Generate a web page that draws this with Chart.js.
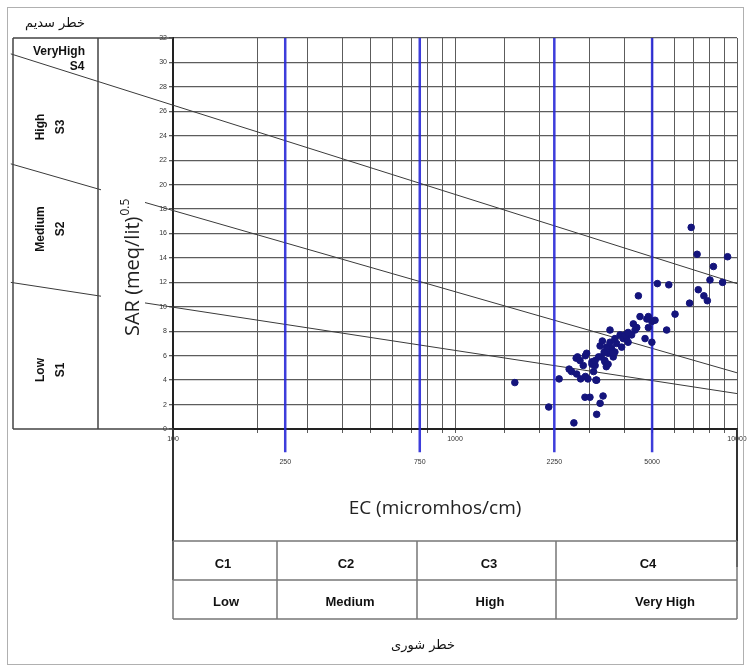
<!DOCTYPE html>
<html>
<head>
<meta charset="utf-8">
<script src="https://cdn.jsdelivr.net/npm/chart.js@4.4.0/dist/chart.umd.min.js"></script>
<style>
  body { margin: 0; background: #fff; }
  #wrap { width: 749px; height: 671px; }
</style>
</head>
<body>
<div id="wrap"><canvas id="wilcox" width="749" height="671"></canvas></div>
<script>
// water samples: EC (micromhos/cm) and SAR
const sampleEC = [1630, 2150, 2640, 2340, 2540, 2590, 2700, 2790, 2900, 2720,
  2900, 3060, 3140, 3100, 3180, 3270, 3300, 3400, 3440, 3490,
  3545, 3590, 3640, 3690, 3740, 3850, 3900, 3950, 4060, 4110,
  4230, 4290, 4350, 4410, 4530, 4470, 4720, 4790, 4850, 4990,
  4990, 5120, 5220, 5630, 5730, 6030, 6790, 6880, 7220, 7290,
  7630, 7850, 8020, 8250, 8890, 9260, 2890, 3010, 3350, 3270,
  3180, 2690, 2850, 2930, 2960, 3160, 3060, 3140, 3230, 3380,
  3450, 3545, 3690, 3400, 3490, 3640, 4010, 4110, 2775, 4850, 3330];
const sampleSAR = [3.8, 1.8, 0.5, 4.1, 4.9, 4.7, 4.5, 4.1, 4.3, 5.9,
  6.0, 5.5, 5.2, 4.7, 4.0, 6.8, 5.9, 5.5, 5.1, 6.2,
  8.1, 6.6, 5.9, 6.3, 7.0, 7.7, 6.7, 7.4, 7.5, 7.1,
  7.7, 8.6, 8.1, 8.3, 9.2, 10.9, 7.4, 9.0, 8.3, 8.8,
  7.1, 8.9, 11.9, 8.1, 11.8, 9.4, 10.3, 16.5, 14.3, 11.4,
  10.9, 10.5, 12.2, 13.3, 12.0, 14.1, 2.6, 2.6, 2.7, 2.1,
  1.2, 5.8, 5.2, 6.2, 4.1, 4.0, 5.3, 5.6, 5.9, 6.3,
  6.7, 7.1, 7.4, 5.6, 5.3, 6.2, 7.7, 7.9, 5.6, 9.2, 7.2];

// salinity class limits (blue lines) and how far below SAR 0 they run
const ecLimits = [250, 750, 2250, 5000];
const limitBottomSAR = -1.9;

// sodium hazard boundaries, end points
const boundaryEC = [26.6, 10000];
const boundaryS1S2 = [12.0, 2.9];
const boundaryS2S3 = [21.7, 4.6];
const boundaryS3S4 = [30.7, 11.9];

const xLabelled = [100, 1000, 10000];
const salinityCodes = ['C1', 'C2', 'C3', 'C4'];
const salinityNames = ['Low', 'Medium', 'High', 'Very High'];

const points = sampleEC.map((ec, i) => ({ x: ec, y: sampleSAR[i] }));

function boundary(sar) {
  return boundaryEC.map((ec, i) => ({ x: ec, y: sar[i] }));
}

const lineDatasets = [boundaryS1S2, boundaryS2S3, boundaryS3S4].map(b => ({
  data: boundary(b),
  showLine: true,
  borderColor: '#3a3a3a',
  borderWidth: 1,
  pointRadius: 0,
  clip: false,
  order: 2
}));

const limitDatasets = ecLimits.map(ec => ({
  data: [{ x: ec, y: 32 }, { x: ec, y: limitBottomSAR }],
  showLine: true,
  borderColor: 'rgba(40,40,215,0.9)',
  borderWidth: 2.5,
  pointRadius: 0,
  clip: false,
  order: 1
}));

const decorations = {
  id: 'decorations',
  afterDatasetsDraw(chart) {
    const ctx = chart.ctx;
    const ca = chart.chartArea;
    const x = chart.scales.x;
    ctx.save();

    // white band behind the y title
    ctx.fillStyle = '#fff';
    ctx.fillRect(101, 140, 44, 210);

    ctx.fillStyle = '#222';
    ctx.font = '20px "Open Sans"';
    ctx.translate(139, 336);
    ctx.rotate(-Math.PI / 2);
    ctx.textAlign = 'left';
    ctx.textBaseline = 'alphabetic';
    ctx.fillText('SAR (meq/lit)', 0, 0);
    const w = ctx.measureText('SAR (meq/lit)').width;
    ctx.font = '12px "Open Sans"';
    ctx.fillText('0.5', w + 1, -10);
    ctx.restore();

    // labels of the blue lines
    ctx.save();
    ctx.fillStyle = '#333';
    ctx.font = '7px "Liberation Sans"';
    ctx.textAlign = 'center';
    ctx.textBaseline = 'middle';
    ecLimits.forEach(ec => ctx.fillText(String(ec), x.getPixelForValue(ec), 462));
    ctx.restore();
  },
  afterDraw(chart) {
    const ctx = chart.ctx;
    const ca = chart.chartArea;
    ctx.save();

    // outer frame
    ctx.strokeStyle = '#b0b0b0';
    ctx.lineWidth = 1;
    ctx.strokeRect(7.5, 7.5, 736, 657);

    // sodium panel
    ctx.strokeStyle = '#444';
    ctx.lineWidth = 1.5;
    ctx.beginPath();
    ctx.moveTo(13, ca.top); ctx.lineTo(ca.left, ca.top);
    ctx.moveTo(13, ca.top); ctx.lineTo(13, ca.bottom);
    ctx.moveTo(13, ca.bottom); ctx.lineTo(ca.left, ca.bottom);
    ctx.moveTo(98, ca.top); ctx.lineTo(98, ca.bottom);
    ctx.stroke();

    ctx.fillStyle = '#111';
    ctx.font = 'bold 12px "Liberation Sans"';
    ctx.textAlign = 'center';
    ctx.textBaseline = 'middle';
    ctx.fillText('VeryHigh', 59, 52);
    ctx.fillText('S4', 77, 67);
    const sodium = [['High', 'S3', 127], ['Medium', 'S2', 229], ['Low', 'S1', 370]];
    sodium.forEach(([name, code, cy]) => {
      ctx.save();
      ctx.translate(41, cy);
      ctx.rotate(-Math.PI / 2);
      ctx.fillText(name, 0, 0);
      ctx.restore();
      ctx.save();
      ctx.translate(61, cy);
      ctx.rotate(-Math.PI / 2);
      ctx.fillText(code, 0, 0);
      ctx.restore();
    });

    // EC box under the axis
    ctx.strokeStyle = '#333';
    ctx.lineWidth = 2;
    ctx.beginPath();
    ctx.moveTo(ca.left, ca.bottom); ctx.lineTo(ca.left, 580);
    ctx.moveTo(ca.right, ca.bottom); ctx.lineTo(ca.right, 567);
    ctx.stroke();

    ctx.fillStyle = '#222';
    ctx.font = '19px "Open Sans"';
    ctx.fillText('EC (micromhos/cm)', 435, 509);

    // salinity table
    const cols = [ca.left, 277, 417, 556, ca.right];
    const rows = [541, 580, 619];
    ctx.strokeStyle = '#777';
    ctx.lineWidth = 1.5;
    ctx.beginPath();
    rows.forEach(r => { ctx.moveTo(ca.left, r); ctx.lineTo(ca.right, r); });
    cols.forEach(c => { ctx.moveTo(c, rows[0]); ctx.lineTo(c, rows[2]); });
    ctx.stroke();

    ctx.fillStyle = '#111';
    ctx.font = 'bold 13px "Liberation Sans"';
    const codeX = [223, 346, 489, 648];
    const nameX = [226, 350, 490, 665];
    salinityCodes.forEach((c, i) => ctx.fillText(c, codeX[i], 564));
    salinityNames.forEach((n, i) => ctx.fillText(n, nameX[i], 602));

    // persian captions
    ctx.font = '13px "DejaVu Sans"';
    ctx.fillText('خطر سدیم', 55, 24);
    ctx.fillText('خطر شوری', 423, 646);
    ctx.restore();
  }
};

new Chart(document.getElementById('wilcox'), {
  type: 'scatter',
  data: {
    datasets: [{
      data: points,
      backgroundColor: '#14147c',
      borderColor: '#14147c',
      pointRadius: 3.3,
      pointHoverRadius: 3.3,
      order: 0
    }, ...limitDatasets, ...lineDatasets]
  },
  options: {
    responsive: false,
    animation: false,
    layout: { padding: { left: 153, right: 12, top: 38, bottom: 222 } },
    plugins: { legend: { display: false }, tooltip: { enabled: false } },
    scales: {
      x: {
        type: 'logarithmic',
        min: 100,
        max: 10000,
        afterFit: s => { s.height = 20; },
        grid: { color: '#5c5c5c', lineWidth: 1, tickLength: 4 },
        border: { color: '#222', width: 2 },
        ticks: {
          autoSkip: false,
          maxRotation: 0,
          padding: 2,
          color: '#333',
          font: { family: 'Liberation Sans', size: 7 },
          callback: v => xLabelled.includes(v) ? String(v) : ''
        }
      },
      y: {
        min: 0,
        max: 32,
        afterFit: s => { s.width = 20; },
        grid: { color: '#5c5c5c', lineWidth: 1.3, tickLength: 4 },
        border: { color: '#222', width: 2 },
        ticks: {
          stepSize: 2,
          padding: 2,
          color: '#333',
          font: { family: 'Liberation Sans', size: 7 }
        }
      }
    }
  },
  plugins: [decorations]
});
</script>
</body>
</html>
